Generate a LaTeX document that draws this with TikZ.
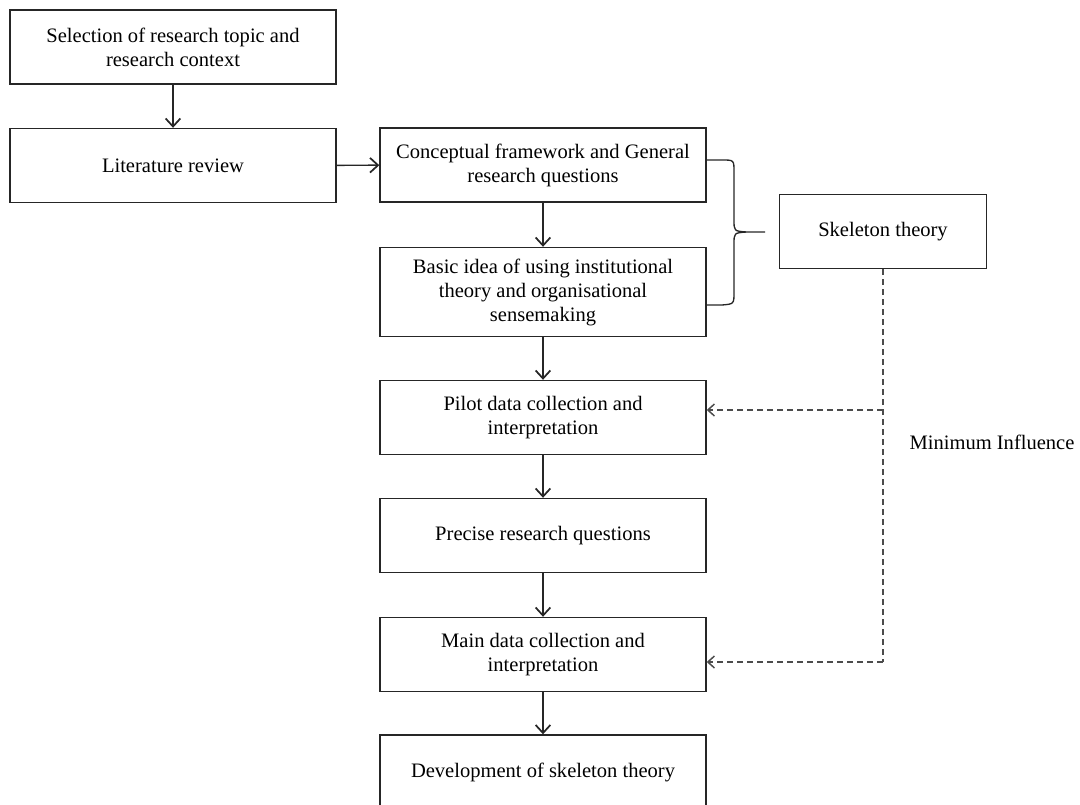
\documentclass[tikz,border=0pt]{standalone}
\usepackage{fontspec}
\setmainfont{Liberation Serif}
\usetikzlibrary{arrows.meta}
\begin{document}
\begin{tikzpicture}[x=0.75pt,y=-0.75pt,
  font=\fontsize{15.4}{18}\selectfont,
  box/.style={draw=black!85,line width=1.05pt,align=center,inner sep=0pt,
              minimum width=244.5pt,minimum height=55.5pt},
  flow/.style={draw=black!85,line width=1.1pt,-{Straight Barb[length=6pt,width=11pt,line width=1.3pt]}},
  infl/.style={draw=black!70,line width=1pt,dash pattern=on 4.5pt off 3pt,
               -{Straight Barb[length=5pt,width=9pt,line width=1.1pt]}}]
\clip (0,0) rectangle (1080,805);
\useasboundingbox (0,0) rectangle (1080,805);

% main flow boxes
\node[box] (sel) at (173,47)    {Selection of research topic and\\research context};
\node[box] (lit) at (173,165.5) {Literature review};
\node[box] (con) at (543,165)   {Conceptual framework and General\\research questions};
\node[box,minimum height=66.75pt] (bas) at (543,292)
  {Basic idea of using institutional\\theory and organisational\\sensemaking};
\node[box] (pil) at (543,417.5) {Pilot data collection and\\interpretation};
\node[box] (pre) at (543,535.5) {Precise research questions};
\node[box] (mai) at (543,654.5) {Main data collection and\\interpretation};
\node[box] (dev) at (543,772)   {Development of skeleton theory};

% side box and label
\node[box,minimum width=155.25pt] (ske) at (883,231.5) {Skeleton theory};
\node[anchor=center] (minf) at (992,442) {Minimum Influence};

% flow arrows
\draw[flow] (sel) -- (lit);
\draw[flow] (lit) -- (con);
\draw[flow] (con) -- (bas);
\draw[flow] (bas) -- (pil);
\draw[flow] (pil) -- (pre);
\draw[flow] (pre) -- (mai);
\draw[flow] (mai) -- (dev);

% curly brace grouping the two early stages
\coordinate (bt) at (706,160);
\coordinate (bb) at (706,305);
\coordinate (tip) at (765,232);
\draw[black!85,line width=1pt]
  (bt) -- (722,160) .. controls (734,160) .. (734,172) -- (734,220)
  .. controls (734,231) .. (746,232) -- (tip);
\draw[black!85,line width=1pt]
  (746,232) .. controls (734,233) .. (734,244) -- (734,292)
  .. controls (734,304) .. (722,305) -- (bb);

% dashed influence of the skeleton theory
\coordinate (j1) at (ske.south |- 0,410);
\coordinate (j2) at (ske.south |- 0,662);
\draw[black!70,line width=1pt,dash pattern=on 4.5pt off 3pt] (ske.south) -- (j2);
\draw[infl] (j1) -- (pil.east |- j1);
\draw[infl] (j2) -- (mai.east |- j2);
\end{tikzpicture}
\end{document}
